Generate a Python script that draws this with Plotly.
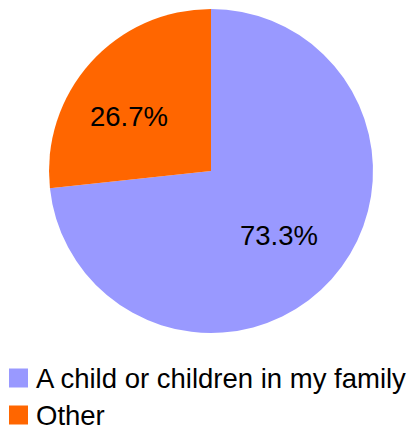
import plotly.graph_objects as go

labels = ["A child or children in my family", "Other"]
values = [73.3, 26.7]
colors = ["#9999FF", "#FF6600"]

W, H = 411, 430
FONT = "Liberation Sans, Arial, sans-serif"
FS = 27.5

fig = go.Figure()
fig.add_trace(go.Pie(
    labels=labels,
    values=values,
    sort=False,
    direction="clockwise",
    rotation=0,
    marker=dict(colors=colors, line=dict(width=0)),
    textinfo="none",
    hoverinfo="label+percent",
    showlegend=False,
    domain=dict(x=[49 / W, 373 / W], y=[(H - 333) / H, (H - 9) / H]),
))

# percentage labels inside each slice (pixel centres from the top-left)
label_pos = [(278.5, 235), (128.5, 116.5)]
total = sum(values)
for v, (px, py) in zip(values, label_pos):
    fig.add_annotation(
        x=px / W, y=(H - py) / H, xref="paper", yref="paper",
        text=f"{v / total * 100:.1f}%", showarrow=False,
        xanchor="center", yanchor="middle",
        font=dict(family=FONT, size=FS, color="#000000"),
    )

# legend drawn as square swatches with text beside them
legend_rows_y = [378, 415]  # vertical centres in pixels from the top
for i, (lab, col, yc) in enumerate(zip(labels, colors, legend_rows_y)):
    fig.add_shape(
        type="rect", xref="paper", yref="paper",
        x0=9 / W, x1=28 / W, y0=(H - (yc + 9.5)) / H, y1=(H - (yc - 9.5)) / H,
        fillcolor=col, line=dict(width=0),
    )
    fig.add_annotation(
        x=35 / W, y=(H - yc) / H, xref="paper", yref="paper",
        text=lab, showarrow=False, xanchor="left", yanchor="middle",
        borderpad=0,
        font=dict(family=FONT, size=FS, color="#000000"),
    )

fig.update_layout(
    width=W, height=H,
    margin=dict(l=0, r=0, t=0, b=0),
    paper_bgcolor="#FFFFFF",
    plot_bgcolor="#FFFFFF",
)

fig.write_html("out.html")
